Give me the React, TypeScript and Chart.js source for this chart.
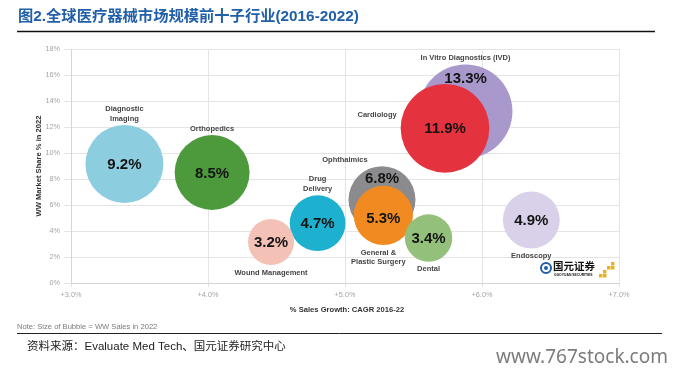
import { useEffect, useRef } from 'react';
import { Chart, registerables } from 'chart.js';

Chart.register(...registerables);

// ---- data ----
const categories = [
  'In Vitro Diagnostics (IVD)',
  'Cardiology',
  'Diagnostic\nImaging',
  'Orthopedics',
  'Ophthalmics',
  'General &\nPlastic Surgery',
  'Drug\nDelivery',
  'Wound Management',
  'Dental',
  'Endoscopy',
];
const salesGrowth = [5.88, 5.73, 3.39, 4.03, 5.27, 5.28, 4.8, 4.46, 5.61, 6.36];
const marketSharePos = [13.2, 11.9, 9.15, 8.5, 6.4, 5.2, 4.6, 3.15, 3.46, 4.85];
const marketShare = [13.3, 11.9, 9.2, 8.5, 6.8, 5.3, 4.7, 3.2, 3.4, 4.9];
const xTickLabels = ['+3.0%', '+4.0%', '+5.0%', '+6.0%', '+7.0%'];
const yTickLabels = ['0%', '2%', '4%', '6%', '8%', '10%', '12%', '14%', '16%', '18%'];

// ---- styles ----
const colors = ['#a998cc', '#e5323f', '#8dcde0', '#4c9a3c', '#8b8b8d', '#f18b21', '#1db1cf', '#f3c1b6', '#93c07a', '#d9d1ea'];
const placement: { side: string; dx: number; valueDy: number }[] = [
  { side: 'top', dx: 0, valueDy: -0.71 },
  { side: 'left', dx: 0, valueDy: 0 },
  { side: 'top', dx: 0, valueDy: 0 },
  { side: 'top', dx: 0, valueDy: 0 },
  { side: 'top', dx: -37, valueDy: -0.64 },
  { side: 'bottom', dx: -5, valueDy: 0.1 },
  { side: 'top', dx: 0, valueDy: 0 },
  { side: 'bottom', dx: 0, valueDy: 0 },
  { side: 'bottom', dx: 0, valueDy: 0 },
  { side: 'bottom', dx: 0, valueDy: 0 },
];
const RADIUS_SCALE = 12.85;
const LATIN = '"Liberation Sans", Arial, "Noto Sans CJK SC", sans-serif';
const CJK = '"Liberation Sans", "Noto Sans CJK SC", sans-serif';

const decorPlugin = {
  id: 'decor',
  beforeDraw(chart: any) {
    const ctx = chart.ctx;
    ctx.save();
    ctx.fillStyle = '#ffffff';
    ctx.fillRect(0, 0, chart.width, chart.height);
    ctx.restore();
  },
  afterDatasetsDraw(chart: any) {
    const ctx = chart.ctx;
    const meta = chart.getDatasetMeta(0);
    ctx.save();
    meta.data.forEach((el: any, i: number) => {
      const { x, y } = el.getProps(['x', 'y'], true);
      const r = el.options.radius;
      const p = placement[i];
      // value
      ctx.font = `bold 15px ${LATIN}`;
      ctx.fillStyle = '#141414';
      ctx.textAlign = 'center';
      ctx.textBaseline = 'middle';
      ctx.fillText(marketShare[i].toFixed(1) + '%', x, y + p.valueDy * r + 1);
      // name
      const lines = categories[i].split('\n');
      ctx.font = `bold 7.5px ${LATIN}`;
      ctx.fillStyle = '#454545';
      const lh = 9.8;
      if (p.side === 'top') {
        const last = y - r - 6.5;
        lines.forEach((t, k) => ctx.fillText(t, x + p.dx, last - (lines.length - 1 - k) * lh));
      } else if (p.side === 'bottom') {
        const first = y + r + 7.5;
        lines.forEach((t, k) => ctx.fillText(t, x + p.dx, first + k * lh));
      } else {
        ctx.textAlign = 'right';
        lines.forEach((t, k) => ctx.fillText(t, x - r - 4, y - 13 + k * lh));
      }
    });
    ctx.restore();
  },
  afterDraw(chart: any) {
    const ctx = chart.ctx;
    ctx.save();
    // title
    ctx.fillStyle = '#2160a8';
    ctx.font = `bold 15.3px ${CJK}`;
    ctx.textAlign = 'left';
    ctx.textBaseline = 'middle';
    ctx.fillText('图2.全球医疗器械市场规模前十子行业(2016-2022)', 18, 17);
    ctx.strokeStyle = '#111';
    ctx.lineWidth = 1.5;
    ctx.beginPath();
    ctx.moveTo(17, 31.5);
    ctx.lineTo(655, 31.5);
    ctx.stroke();

    // axis titles
    ctx.fillStyle = '#333';
    ctx.font = `bold 7.6px ${LATIN}`;
    ctx.textAlign = 'center';
    ctx.fillText('% Sales Growth: CAGR 2016-22', 347, 309.5);
    ctx.save();
    ctx.translate(39, 166);
    ctx.rotate(-Math.PI / 2);
    ctx.fillText('WW Market Share % in 2022', 0, 0);
    ctx.restore();

    // note
    ctx.textAlign = 'left';
    ctx.fillStyle = '#7a7a7a';
    ctx.font = `7.6px ${LATIN}`;
    ctx.fillText('Note: Size of Bubble = WW Sales in 2022', 17, 327);
    ctx.strokeStyle = '#222';
    ctx.lineWidth = 1;
    ctx.beginPath();
    ctx.moveTo(17, 333.5);
    ctx.lineTo(662, 333.5);
    ctx.stroke();

    // source
    ctx.fillStyle = '#222';
    ctx.font = `11.5px ${CJK}`;
    ctx.fillText('资料来源：Evaluate Med Tech、国元证券研究中心', 27, 347);

    // watermark
    ctx.fillStyle = '#7c7c7c';
    ctx.font = '19px "Noto Sans", "Open Sans", sans-serif';
    ctx.textAlign = 'right';
    ctx.fillText('www.767stock.com', 668, 358);

    // logo
    ctx.strokeStyle = '#1f5fa8';
    ctx.lineWidth = 2;
    ctx.beginPath();
    ctx.arc(546, 268, 5, 0, Math.PI * 2);
    ctx.stroke();
    ctx.fillStyle = '#1f5fa8';
    ctx.beginPath();
    ctx.arc(546, 268, 2, 0, Math.PI * 2);
    ctx.fill();
    ctx.fillStyle = '#111';
    ctx.textAlign = 'left';
    ctx.font = `bold 10.5px "Noto Sans CJK SC", sans-serif`;
    ctx.fillText('国元证券', 553, 266.5);
    ctx.font = `bold 3.4px ${LATIN}`;
    ctx.fillText('GUOYUAN SECURITIES', 554, 275);
    ctx.fillStyle = '#e6b422';
    const sq = [[611, 262], [607, 266], [611, 266], [603, 270], [599, 274], [603, 274]];
    sq.forEach(([sx, sy]) => ctx.fillRect(sx, sy, 3.5, 3.5));
    ctx.restore();
  },
};

export default function App() {
  const ref = useRef<HTMLCanvasElement | null>(null);
  useEffect(() => {
    if (!ref.current) return;
    const chart = new Chart(ref.current, {
      type: 'bubble',
      data: {
        datasets: [
          {
            label: 'Medical Device Segments',
            data: categories.map((_, i) => ({
              x: salesGrowth[i],
              y: marketSharePos[i],
              r: RADIUS_SCALE * Math.sqrt(marketShare[i]),
            })),
            backgroundColor: colors,
            borderWidth: 0,
            hoverBorderWidth: 0,
            clip: false as any,
          },
        ],
      },
      options: {
        responsive: false,
        animation: false,
        events: [],
        layout: { padding: { left: 0, right: 61, top: 49, bottom: 0 } },
        plugins: { legend: { display: false }, tooltip: { enabled: false } },
        scales: {
          x: {
            type: 'linear',
            min: 3,
            max: 7,
            afterFit: (s: any) => { s.height = 93; },
            ticks: {
              stepSize: 1,
              padding: 4,
              color: '#a5a5a5',
              font: { size: 7.3, family: LATIN },
              callback: (_v: any, i: number) => xTickLabels[i],
            },
            grid: { color: '#e4e4e4', lineWidth: 1, tickLength: 4 },
            border: { color: '#d6d6d6' },
          },
          y: {
            type: 'linear',
            min: 0,
            max: 18,
            afterFit: (s: any) => { s.width = 71; },
            ticks: {
              stepSize: 2,
              padding: 4,
              color: '#a5a5a5',
              font: { size: 7.3, family: LATIN },
              callback: (_v: any, i: number) => yTickLabels[i],
            },
            grid: { color: '#e4e4e4', lineWidth: 1, tickLength: 7 },
            border: { color: '#d6d6d6' },
          },
        },
      },
      plugins: [decorPlugin],
    });
    return () => chart.destroy();
  }, []);
  return (
    <div style={{ position: 'fixed', left: 0, top: 0, width: 680, height: 376, background: '#fff' }}>
      <canvas ref={ref} width={680} height={376} style={{ display: 'block', width: 680, height: 376 }} />
    </div>
  );
}
